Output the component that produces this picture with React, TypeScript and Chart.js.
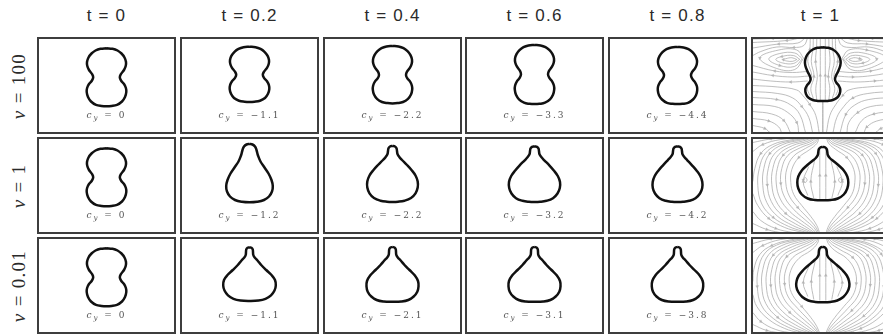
import React, { useEffect, useRef } from "react";
import { Chart, registerables } from "chart.js";

Chart.register(...registerables);

type Pt = [number, number];

// ---------- labels ----------
const timeLabels = ["t = 0", "t = 0.2", "t = 0.4", "t = 0.6", "t = 0.8", "t = 1"];
const viscosityLabels = ["100", "1", "0.01"];

// vertical centre-of-mass position printed under each vesicle (t = 0 … 0.8)
const cyNu100 = [0, -1.1, -2.2, -3.3, -4.4];
const cyNu1 = [0, -1.2, -2.2, -3.2, -4.2];
const cyNu001 = [0, -1.1, -2.1, -3.1, -3.8];

// ---------- vesicle outlines ----------
// right half of each outline, top to bottom, in frame units (frame centre = 0,0)
const outlineStart: Pt[] = [[0, 3.72], [0.6, 3.67], [1.1, 3.5], [1.5, 3.2], [1.8, 2.8], [1.95, 2.35], [1.92, 1.95], [1.75, 1.55], [1.45, 1.15], [1.33, 0.82], [1.45, 0.5], [1.75, 0.15], [1.94, -0.25], [1.98, -0.65], [1.85, -1.15], [1.55, -1.6], [1.05, -1.93], [0.5, -2.04], [0, -2.07]];

const outlineNu100T02: Pt[] = [[0, 3.88], [0.6, 3.83], [1.1, 3.66], [1.5, 3.37], [1.8, 2.98], [1.95, 2.55], [1.92, 2.15], [1.75, 1.77], [1.45, 1.38], [1.33, 1.07], [1.45, 0.76], [1.75, 0.42], [1.94, 0.03], [1.98, -0.36], [1.85, -0.83], [1.55, -1.25], [1.05, -1.52], [0.5, -1.62], [0, -1.65]];
const outlineNu100T04: Pt[] = [[0, 3.95], [0.6, 3.9], [1.1, 3.73], [1.5, 3.43], [1.8, 3.03], [1.95, 2.58], [1.92, 2.18], [1.75, 1.78], [1.45, 1.38], [1.35, 1.05], [1.47, 0.73], [1.76, 0.38], [1.94, -0.02], [1.97, -0.42], [1.85, -0.9], [1.55, -1.33], [1.05, -1.65], [0.5, -1.76], [0, -1.79]];
const outlineNu100T06: Pt[] = [[0, 4.05], [0.6, 4.0], [1.1, 3.83], [1.5, 3.53], [1.8, 3.13], [1.95, 2.68], [1.92, 2.28], [1.75, 1.88], [1.45, 1.46], [1.35, 1.12], [1.47, 0.78], [1.76, 0.42], [1.94, 0.0], [1.97, -0.42], [1.85, -0.93], [1.55, -1.38], [1.05, -1.72], [0.5, -1.83], [0, -1.86]];
const outlineNu100T08: Pt[] = [[0, 3.85], [0.6, 3.8], [1.1, 3.63], [1.5, 3.33], [1.8, 2.93], [1.95, 2.5], [1.92, 2.1], [1.75, 1.72], [1.45, 1.33], [1.35, 1.0], [1.47, 0.68], [1.76, 0.32], [1.94, -0.08], [1.97, -0.48], [1.85, -0.97], [1.55, -1.4], [1.05, -1.73], [0.5, -1.83], [0, -1.86]];
const outlineNu100T1: Pt[] = [[0, 3.82], [0.55, 3.77], [1.0, 3.6], [1.38, 3.3], [1.65, 2.9], [1.78, 2.45], [1.75, 2.0], [1.55, 1.45], [1.3, 0.95], [1.22, 0.6], [1.35, 0.3], [1.62, -0.05], [1.75, -0.4], [1.68, -0.85], [1.45, -1.2], [1.0, -1.45], [0.5, -1.54], [0, -1.56]];

const outlineNu1T02: Pt[] = [[0, 4.15], [0.3, 4.1], [0.55, 3.9], [0.7, 3.55], [0.85, 3.0], [1.1, 2.4], [1.5, 1.8], [1.9, 1.2], [2.2, 0.55], [2.33, -0.05], [2.25, -0.6], [1.95, -1.1], [1.45, -1.45], [0.75, -1.63], [0, -1.68]];
const outlineNu1T04: Pt[] = [[0, 3.95], [0.25, 3.9], [0.4, 3.72], [0.45, 3.45], [0.5, 3.15], [0.68, 2.85], [0.95, 2.55], [1.45, 2.05], [1.9, 1.55], [2.3, 1.0], [2.52, 0.4], [2.52, -0.2], [2.3, -0.78], [1.85, -1.25], [1.2, -1.52], [0.55, -1.62], [0, -1.64]];
const outlineNu1T06: Pt[] = [[0, 3.92], [0.25, 3.87], [0.4, 3.7], [0.45, 3.42], [0.5, 3.12], [0.7, 2.82], [0.98, 2.52], [1.48, 2.02], [1.93, 1.5], [2.33, 0.95], [2.55, 0.35], [2.53, -0.25], [2.3, -0.8], [1.85, -1.27], [1.2, -1.53], [0.55, -1.63], [0, -1.65]];
const outlineNu1T08: Pt[] = [[0, 3.92], [0.25, 3.87], [0.4, 3.7], [0.45, 3.42], [0.5, 3.12], [0.7, 2.82], [0.98, 2.52], [1.45, 2.02], [1.9, 1.5], [2.28, 0.95], [2.48, 0.35], [2.47, -0.25], [2.25, -0.8], [1.8, -1.27], [1.18, -1.53], [0.55, -1.63], [0, -1.65]];
const outlineNu1T1: Pt[] = [[0, 3.85], [0.25, 3.8], [0.4, 3.62], [0.45, 3.35], [0.5, 3.05], [0.7, 2.75], [1.05, 2.45], [1.6, 2.0], [2.1, 1.5], [2.45, 0.9], [2.55, 0.3], [2.45, -0.3], [2.1, -0.9], [1.5, -1.3], [0.8, -1.45], [0, -1.48]];

const outlineNu001T02: Pt[] = [[0, 3.82], [0.2, 3.78], [0.32, 3.62], [0.35, 3.35], [0.38, 3.05], [0.52, 2.8], [0.8, 2.5], [1.17, 2.05], [1.67, 1.55], [2.2, 1.05], [2.55, 0.55], [2.63, 0.0], [2.5, -0.5], [2.15, -0.98], [1.6, -1.33], [0.9, -1.5], [0, -1.54]];
const outlineNu001T04: Pt[] = [[0, 3.85], [0.2, 3.8], [0.32, 3.64], [0.35, 3.37], [0.38, 3.07], [0.53, 2.8], [0.82, 2.5], [1.2, 2.05], [1.7, 1.55], [2.22, 1.02], [2.55, 0.45], [2.6, -0.1], [2.48, -0.62], [2.12, -1.1], [1.58, -1.45], [0.88, -1.6], [0, -1.63]];
const outlineNu001T06: Pt[] = [[0, 3.85], [0.2, 3.8], [0.32, 3.64], [0.35, 3.37], [0.38, 3.07], [0.53, 2.8], [0.82, 2.5], [1.2, 2.05], [1.7, 1.55], [2.22, 1.02], [2.55, 0.45], [2.6, -0.1], [2.48, -0.62], [2.12, -1.1], [1.58, -1.45], [0.88, -1.6], [0, -1.63]];
const outlineNu001T08: Pt[] = [[0, 3.85], [0.2, 3.8], [0.32, 3.64], [0.35, 3.37], [0.38, 3.07], [0.53, 2.8], [0.82, 2.5], [1.2, 2.05], [1.7, 1.55], [2.2, 1.02], [2.52, 0.45], [2.57, -0.1], [2.45, -0.62], [2.1, -1.1], [1.56, -1.45], [0.88, -1.6], [0, -1.63]];
const outlineNu001T1: Pt[] = [[0, 3.85], [0.22, 3.8], [0.35, 3.62], [0.4, 3.35], [0.43, 3.05], [0.58, 2.78], [0.9, 2.48], [1.4, 2.05], [1.95, 1.55], [2.4, 1.0], [2.62, 0.45], [2.65, -0.1], [2.45, -0.65], [2.05, -1.15], [1.45, -1.5], [0.75, -1.64], [0, -1.67]];

// ---------- streamlines at t = 1 (right half; the left half is its mirror) ----------
const streamsNu100: Pt[][] = [
  // through the vesicle
  [[0.25, -1.6], [0.25, 1.0], [0.25, 4.8]],
  [[0.6, -1.5], [0.7, -0.3], [0.55, 0.9], [0.72, 2.4], [0.62, 3.9], [0.6, 4.8]],
  [[0.95, -1.3], [1.2, -0.3], [0.88, 0.9], [1.15, 2.4], [0.98, 3.7], [0.95, 4.8]],
  [[1.3, -1.0], [1.55, -0.2], [1.1, 0.9], [1.5, 2.4], [1.3, 3.6], [1.25, 4.8]],
  // eddies beside the upper lobe
  [[2.6, 2.6], [3.1, 2.78], [3.7, 2.68], [3.95, 2.58], [3.6, 2.45], [3.0, 2.42], [2.6, 2.6]],
  [[2.3, 2.62], [2.95, 3.0], [4.1, 2.9], [4.7, 2.6], [4.0, 2.25], [2.95, 2.2], [2.3, 2.62]],
  [[2.05, 2.66], [2.8, 3.25], [4.3, 3.2], [5.4, 2.65], [4.3, 2.0], [2.85, 1.9], [2.05, 2.66]],
  [[1.92, 2.72], [2.6, 3.55], [4.4, 3.55], [6.3, 2.75], [4.6, 1.7], [2.8, 1.6], [1.92, 2.72]],
  // above the eddies
  [[1.5, 4.8], [1.9, 4.0], [2.9, 3.8], [4.6, 3.85], [6.2, 3.4], [7.0, 3.0]],
  [[1.7, 4.8], [2.5, 4.25], [4.4, 4.15], [7.0, 3.75]],
  [[2.1, 4.8], [3.6, 4.5], [7.0, 4.3]],
  [[3.0, 4.8], [5.0, 4.7], [7.0, 4.65]],
  // below the eddies
  [[1.65, 1.4], [3.0, 1.3], [4.8, 1.45], [7.0, 2.0]],
  [[1.4, 0.95], [3.0, 0.85], [5.0, 1.0], [7.0, 1.35]],
  [[1.5, 0.45], [3.2, 0.35], [5.2, 0.45], [7.0, 0.65]],
  // lower fan towards the bottom centre
  [[7.0, 0.0], [4.5, -0.15], [2.6, -0.45], [2.0, -1.0], [1.3, -1.9], [0.7, -3.0], [0.35, -4.8]],
  [[7.0, -0.6], [4.5, -0.8], [3.0, -1.25], [2.1, -2.1], [1.4, -3.2], [1.0, -4.8]],
  [[7.0, -1.2], [4.6, -1.4], [3.2, -1.95], [2.3, -2.9], [1.7, -4.8]],
  [[7.0, -1.9], [4.8, -2.1], [3.5, -2.7], [2.6, -3.7], [2.4, -4.8]],
  [[7.0, -2.6], [5.1, -2.85], [3.9, -3.5], [3.2, -4.8]],
  [[7.0, -3.3], [5.4, -3.55], [4.4, -4.15], [4.1, -4.8]],
  [[7.0, -4.0], [5.8, -4.3], [5.2, -4.8]],
  [[0.0, -1.55], [0.0, -4.8]],
];

const streamsNu1: Pt[][] = [
  // inside the vesicle
  [[0.3, -1.4], [0.3, 1.0], [0.3, 3.7]],
  [[0.9, -1.3], [1.2, 0.4], [0.8, 2.6]],
  [[1.5, -1.0], [1.95, 0.4], [1.4, 1.9]],
  [[1.55, 0.55], [1.75, 0.8], [1.95, 0.55], [1.75, 0.3], [1.55, 0.55]],
  // loops around the side
  [[0.35, 4.8], [0.6, 4.2], [1.3, 3.6], [2.4, 2.8], [3.1, 1.6], [3.2, 0.3], [2.9, -0.9], [2.1, -2.0], [1.2, -3.1], [0.6, -4.0], [0.3, -4.8]],
  [[0.42, 4.8], [0.8, 4.25], [1.75, 3.7], [2.95, 2.9], [3.6, 1.65], [3.7, 0.25], [3.35, -1.05], [2.5, -2.2], [1.5, -3.25], [0.75, -4.1], [0.4, -4.8]],
  [[0.5, 4.8], [1.0, 4.3], [2.2, 3.8], [3.5, 3.0], [4.1, 1.7], [4.2, 0.2], [3.8, -1.2], [2.9, -2.4], [1.8, -3.4], [0.9, -4.2], [0.5, -4.8]],
  [[0.6, 4.8], [1.3, 4.35], [2.6, 3.9], [3.95, 3.05], [4.55, 1.7], [4.65, 0.15], [4.25, -1.35], [3.3, -2.6], [2.1, -3.55], [1.1, -4.3], [0.62, -4.8]],
  [[0.7, 4.8], [1.6, 4.4], [3.0, 4.0], [4.4, 3.1], [5.0, 1.7], [5.1, 0.1], [4.7, -1.5], [3.7, -2.8], [2.4, -3.7], [1.3, -4.4], [0.75, -4.8]],
  [[0.85, 4.8], [2.0, 4.45], [3.5, 4.05], [4.85, 3.15], [5.45, 1.7], [5.55, 0.05], [5.15, -1.6], [4.1, -2.95], [2.7, -3.85], [1.55, -4.45], [0.9, -4.8]],
  [[1.0, 4.8], [2.4, 4.5], [4.0, 4.1], [5.3, 3.2], [5.9, 1.7], [6.0, 0.0], [5.6, -1.7], [4.5, -3.1], [3.0, -4.0], [1.8, -4.5], [1.05, -4.8]],
  [[1.2, 4.8], [2.85, 4.52], [4.5, 4.1], [5.75, 3.2], [6.35, 1.7], [6.5, 0.0], [6.1, -1.85], [4.95, -3.2], [3.4, -4.1], [2.1, -4.55], [1.2, -4.8]],
  [[1.4, 4.8], [3.3, 4.55], [5.0, 4.1], [6.2, 3.2], [6.8, 1.7], [7.0, 0.4]],
  [[7.0, -0.8], [6.5, -2.0], [5.4, -3.3], [3.8, -4.2], [2.4, -4.6], [1.4, -4.8]],
  [[2.0, 4.8], [4.2, 4.6], [6.0, 4.1], [7.0, 3.4]],
  [[7.0, -2.6], [6.2, -3.5], [4.7, -4.3], [3.0, -4.7], [2.0, -4.8]],
  [[3.0, 4.8], [5.2, 4.65], [7.0, 4.3]],
  [[7.0, -3.8], [5.6, -4.4], [3.8, -4.8]],
];

const streamsNu001: Pt[][] = [
  // inside the vesicle
  [[0.3, -1.5], [0.3, 1.0], [0.3, 3.6]],
  [[0.9, -1.4], [1.15, 0.4], [0.75, 2.5]],
  [[1.5, -1.1], [1.95, 0.3], [1.4, 1.9]],
  // loops around the side
  [[0.35, 4.8], [0.55, 4.2], [1.2, 3.5], [2.4, 2.7], [3.2, 1.5], [3.35, 0.2], [3.0, -1.0], [2.1, -2.1], [1.2, -3.2], [0.6, -4.1], [0.3, -4.8]],
  [[0.42, 4.8], [0.75, 4.25], [1.7, 3.6], [3.0, 2.8], [3.7, 1.55], [3.82, 0.15], [3.45, -1.15], [2.5, -2.3], [1.5, -3.35], [0.75, -4.2], [0.4, -4.8]],
  [[0.5, 4.8], [1.0, 4.3], [2.2, 3.7], [3.6, 2.9], [4.2, 1.6], [4.3, 0.1], [3.9, -1.3], [2.9, -2.5], [1.8, -3.5], [0.9, -4.3], [0.5, -4.8]],
  [[0.6, 4.8], [1.3, 4.35], [2.6, 3.8], [4.05, 2.95], [4.65, 1.6], [4.75, 0.05], [4.35, -1.45], [3.3, -2.7], [2.1, -3.65], [1.1, -4.4], [0.62, -4.8]],
  [[0.7, 4.8], [1.6, 4.4], [3.0, 3.9], [4.5, 3.0], [5.1, 1.6], [5.2, 0.0], [4.8, -1.6], [3.7, -2.9], [2.4, -3.8], [1.3, -4.5], [0.75, -4.8]],
  [[0.85, 4.8], [2.0, 4.45], [3.55, 3.95], [4.95, 3.05], [5.55, 1.6], [5.65, -0.05], [5.25, -1.7], [4.1, -3.05], [2.7, -3.95], [1.55, -4.55], [0.9, -4.8]],
  [[1.0, 4.8], [2.4, 4.5], [4.1, 4.0], [5.4, 3.1], [6.0, 1.6], [6.1, -0.1], [5.7, -1.8], [4.5, -3.2], [3.0, -4.1], [1.8, -4.6], [1.05, -4.8]],
  [[1.2, 4.8], [2.85, 4.52], [4.6, 4.05], [5.85, 3.15], [6.45, 1.6], [6.55, -0.1], [6.15, -1.95], [4.95, -3.3], [3.4, -4.2], [2.1, -4.65], [1.2, -4.8]],
  [[1.4, 4.8], [3.3, 4.55], [5.1, 4.0], [6.3, 3.1], [6.9, 1.6], [7.0, 0.4]],
  [[7.0, -0.9], [6.6, -2.1], [5.4, -3.4], [3.8, -4.3], [2.4, -4.7], [1.4, -4.8]],
  [[2.0, 4.8], [4.2, 4.6], [6.0, 4.0], [7.0, 3.3]],
  [[7.0, -2.7], [6.2, -3.6], [4.7, -4.4], [3.0, -4.75], [2.0, -4.8]],
  [[3.0, 4.8], [5.2, 4.65], [7.0, 4.2]],
  [[7.0, -3.9], [5.6, -4.5], [3.8, -4.8]],
];

// ---------- layout ----------
const FIG_W = 883;
const FIG_H = 334;
const colLeft = [37, 180, 323, 465, 608, 751];
const rowTop = [37, 137, 237];
const PANEL_W = 139;
const PANEL_H = 97;
const BORDER = 2;
const UNIT = 10; // pixels per frame unit
const finalAxisShift = 0.23; // the t = 1 frames are centred slightly left of the vesicle axis
const STREAM_GREY = "#a8a8a8";

type PanelSpec = {
  outline: Pt[];
  streams?: Pt[][];
  cy?: number;
};

const rows: PanelSpec[][] = [
  [
    { outline: outlineStart, cy: cyNu100[0] },
    { outline: outlineNu100T02, cy: cyNu100[1] },
    { outline: outlineNu100T04, cy: cyNu100[2] },
    { outline: outlineNu100T06, cy: cyNu100[3] },
    { outline: outlineNu100T08, cy: cyNu100[4] },
    { outline: outlineNu100T1, streams: streamsNu100 },
  ],
  [
    { outline: outlineStart, cy: cyNu1[0] },
    { outline: outlineNu1T02, cy: cyNu1[1] },
    { outline: outlineNu1T04, cy: cyNu1[2] },
    { outline: outlineNu1T06, cy: cyNu1[3] },
    { outline: outlineNu1T08, cy: cyNu1[4] },
    { outline: outlineNu1T1, streams: streamsNu1 },
  ],
  [
    { outline: outlineStart, cy: cyNu001[0] },
    { outline: outlineNu001T02, cy: cyNu001[1] },
    { outline: outlineNu001T04, cy: cyNu001[2] },
    { outline: outlineNu001T06, cy: cyNu001[3] },
    { outline: outlineNu001T08, cy: cyNu001[4] },
    { outline: outlineNu001T1, streams: streamsNu001 },
  ],
];

function closeOutline(half: Pt[]) {
  const leftSide = half.slice(1, -1).reverse().map(([x, y]) => [-x, y] as Pt);
  return [...half, ...leftSide, half[0]].map(([x, y]) => ({ x, y }));
}

function mirrored(lines: Pt[][]) {
  return [...lines, ...lines.map((l) => l.map(([x, y]) => [-x, y] as Pt))];
}

// a small arrowhead on one inner vertex of each streamline, turned along the line;
// the vertex chosen alternates so the heads do not all line up
function streamDataset(line: Pt[], k: number) {
  const n = line.length;
  let mid = -1;
  if (n >= 3) {
    const frac = [0.5, 0.3, 0.7][k % 3];
    mid = Math.min(n - 2, Math.max(1, Math.round((n - 1) * frac)));
  }
  const radius = line.map((_, i) => (i === mid ? 1.7 : 0));
  const rotation = line.map((_, i) => {
    if (i !== mid) return 0;
    const [x0, y0] = line[i - 1];
    const [x1, y1] = line[i + 1];
    return (Math.atan2(x1 - x0, y1 - y0) * 180) / Math.PI;
  });
  return {
    data: line.map(([x, y]) => ({ x, y })),
    borderColor: STREAM_GREY,
    borderWidth: 0.75,
    tension: 0.4,
    order: 1,
    pointStyle: "triangle",
    pointRadius: radius,
    pointRotation: rotation,
    pointBackgroundColor: "#b4b4b4",
    pointBorderColor: "#b4b4b4",
    pointBorderWidth: 0.3,
  };
}

function formatCy(v: number) {
  return v === 0 ? "0" : (v < 0 ? "\u2212" : "") + Math.abs(v).toFixed(1);
}

function Panel({ spec, left, top }: { spec: PanelSpec; left: number; top: number }) {
  const ref = useRef<HTMLCanvasElement>(null);
  const innerW = PANEL_W - 2 * BORDER;
  const innerH = PANEL_H - 2 * BORDER;

  useEffect(() => {
    if (!ref.current) return;
    const halfW = innerW / 2 / UNIT;
    const halfH = innerH / 2 / UNIT;
    const shift = spec.streams ? finalAxisShift : 0;

    const datasets: any[] = [
      {
        data: closeOutline(spec.outline),
        borderColor: "#111111",
        borderWidth: 2.5,
        tension: 0.4,
        order: 0,
        pointRadius: 0,
      },
    ];
    if (spec.streams) {
      mirrored(spec.streams).forEach((line, k) => datasets.push(streamDataset(line, k)));
    }

    const chart = new Chart(ref.current, {
      type: "scatter",
      data: { datasets },
      options: {
        animation: false,
        responsive: false,
        maintainAspectRatio: false,
        events: [],
        layout: { padding: 0 },
        showLine: true,
        elements: { point: { hoverRadius: 0 }, line: { capBezierPoints: false } },
        plugins: { legend: { display: false }, tooltip: { enabled: false }, title: { display: false } },
        scales: {
          x: { type: "linear", min: -halfW - shift, max: halfW - shift, display: false },
          y: { type: "linear", min: -halfH, max: halfH, display: false },
        },
      } as any,
    });
    return () => chart.destroy();
  }, []);

  return (
    <div
      style={{
        position: "absolute",
        left,
        top,
        width: PANEL_W,
        height: PANEL_H,
        boxSizing: "border-box",
        border: `${BORDER}px solid #3d3d3d`,
        background: "#ffffff",
        overflow: "hidden",
      }}
    >
      <canvas ref={ref} width={innerW} height={innerH} style={{ display: "block", width: innerW, height: innerH }} />
      {spec.cy !== undefined && (
        <div
          style={{
            position: "absolute",
            left: 0,
            top: 70,
            width: "100%",
            textAlign: "center",
            fontFamily: "'DejaVu Serif', serif",
            fontSize: 9,
            letterSpacing: 2,
            lineHeight: "12px",
            color: "#555555",
            whiteSpace: "nowrap",
          }}
        >
          <span style={{ fontStyle: "italic" }}>c</span>
          <span style={{ fontStyle: "italic", fontSize: 7, position: "relative", top: 2 }}>y</span>
          {" = "}
          {formatCy(spec.cy)}
        </div>
      )}
    </div>
  );
}

export default function App() {
  return (
    <div
      style={{
        position: "fixed",
        left: 0,
        top: 0,
        width: FIG_W,
        height: FIG_H,
        overflow: "hidden",
        background: "#ffffff",
      }}
    >
      {timeLabels.map((label, c) => (
        <div
          key={label}
          style={{
            position: "absolute",
            left: colLeft[c],
            top: 4,
            width: PANEL_W,
            textAlign: "center",
            fontFamily: "'Liberation Sans', sans-serif",
            fontSize: 17,
            letterSpacing: 1.2,
            lineHeight: "24px",
            color: "#2a2a2a",
          }}
        >
          {label}
        </div>
      ))}
      {viscosityLabels.map((label, r) => (
        <div
          key={label}
          style={{
            position: "absolute",
            left: 19,
            top: rowTop[r] + PANEL_H / 2,
            transform: "translate(-50%, -50%) rotate(-90deg)",
            fontFamily: "'Liberation Serif', serif",
            fontSize: 19,
            letterSpacing: 1.3,
            lineHeight: "20px",
            whiteSpace: "nowrap",
            color: "#2a2a2a",
          }}
        >
          <span style={{ fontStyle: "italic" }}>ν</span>
          {" = " + label}
        </div>
      ))}
      {rows.map((row, r) =>
        row.map((spec, c) => <Panel key={`${r}-${c}`} spec={spec} left={colLeft[c]} top={rowTop[r]} />)
      )}
    </div>
  );
}
